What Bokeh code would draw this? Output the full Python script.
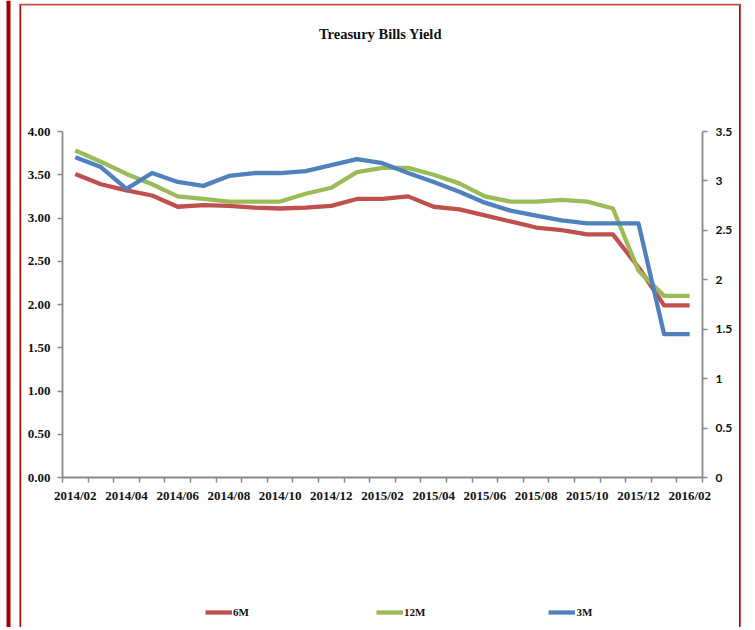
from bokeh.plotting import figure
from bokeh.models import (ColumnDataSource, Range1d, LinearAxis, FixedTicker,
                          NumeralTickFormatter, BoxAnnotation, Label, Legend, LegendItem)
from bokeh.embed import file_html
from bokeh.resources import INLINE

# ---------------- data ----------------
months = ["2014/02", "2014/03", "2014/04", "2014/05", "2014/06", "2014/07", "2014/08",
          "2014/09", "2014/10", "2014/11", "2014/12", "2015/01", "2015/02", "2015/03",
          "2015/04", "2015/05", "2015/06", "2015/07", "2015/08", "2015/09", "2015/10",
          "2015/11", "2015/12", "2016/01", "2016/02"]

yield_6m = [3.51, 3.39, 3.32, 3.26, 3.13, 3.15, 3.14, 3.12, 3.11, 3.12, 3.14, 3.22, 3.22,
            3.25, 3.13, 3.10, 3.03, 2.96, 2.89, 2.86, 2.81, 2.81, 2.43, 1.99, 1.99]
yield_12m = [3.78, 3.65, 3.51, 3.39, 3.25, 3.22, 3.19, 3.19, 3.19, 3.28, 3.35, 3.53, 3.58,
             3.58, 3.50, 3.40, 3.25, 3.19, 3.19, 3.21, 3.19, 3.11, 2.39, 2.10, 2.10]
yield_3m = [3.24, 3.14, 2.92, 3.08, 2.99, 2.95, 3.05, 3.08, 3.08, 3.10, 3.16, 3.22, 3.18,
            3.08, 2.99, 2.89, 2.78, 2.70, 2.65, 2.60, 2.57, 2.57, 2.57, 1.45, 1.45]

left_ticks = [0, 0.5, 1, 1.5, 2, 2.5, 3, 3.5, 4]
right_ticks = [0, 0.5, 1, 1.5, 2, 2.5, 3, 3.5]
LEFT_MAX, RIGHT_MAX = 4.0, 3.5

title_text = "Treasury Bills Yield"

# ---------------- layout geometry (page pixels) ----------------
W, H = 752, 627
FL, FR, FT, FB = 62, 702, 131, 477   # plot-area edges on the page
n = len(months)

def xd(px):
    return -0.5 + (px - FL) * n / (FR - FL)

def yd(py):
    return (FB - py) * LEFT_MAX / (FB - FT)

def yr(py):
    return (FB - py) * RIGHT_MAX / (FB - FT)

x_idx = list(range(n))
src = ColumnDataSource(dict(x=x_idx, m6=yield_6m, m12=yield_12m, m3=yield_3m,
                            month=months))

p = figure(width=W, height=H, output_backend="svg", toolbar_location=None,
           x_range=Range1d(xd(0), xd(W)), y_range=Range1d(yd(H), yd(0)),
           min_border=0, x_axis_location=None, y_axis_location=None)
p.extra_y_ranges = {"right": Range1d(yr(H), yr(0))}
p.outline_line_color = None
p.xgrid.visible = False
p.ygrid.visible = False
p.background_fill_color = "white"
p.border_fill_color = "white"

AX = "#898989"
serif = "Liberation Serif"
TXT = "#111111"

# bottom axis: labels every two months, tick marks between categories
xa = LinearAxis(fixed_location=0, bounds=(-0.5, n - 0.5),
                ticker=FixedTicker(ticks=x_idx[::2],
                                   minor_ticks=[i - 0.5 for i in range(n + 1)]))
xa.major_label_overrides = {i: months[i] for i in x_idx[::2]}
xa.major_tick_out = 0
xa.major_tick_in = 0
xa.minor_tick_out = 5
xa.minor_tick_in = 0
xa.minor_tick_line_color = AX
xa.minor_tick_line_width = 1.5
xa.axis_line_color = AX
xa.axis_line_width = 1.8
xa.major_label_standoff = 5
xa.major_label_text_font = serif
xa.major_label_text_font_style = "bold"
xa.major_label_text_font_size = "13px"
xa.major_label_text_color = TXT
p.add_layout(xa, "below")

# left axis
ya = LinearAxis(fixed_location=-0.5, bounds=(0, LEFT_MAX),
                ticker=FixedTicker(ticks=left_ticks),
                formatter=NumeralTickFormatter(format="0.00"))
ya.major_tick_out = 5
ya.major_tick_in = 0
ya.minor_tick_out = 0
ya.minor_tick_in = 0
ya.major_tick_line_color = AX
ya.major_tick_line_width = 1.5
ya.axis_line_color = AX
ya.axis_line_width = 1.8
ya.major_label_standoff = 7
ya.major_label_text_font = serif
ya.major_label_text_font_style = "bold"
ya.major_label_text_font_size = "13px"
ya.major_label_text_color = TXT
p.add_layout(ya, "left")

# right axis
ra = LinearAxis(y_range_name="right", fixed_location=n - 0.5, bounds=(0, RIGHT_MAX),
                ticker=FixedTicker(ticks=right_ticks),
                formatter=NumeralTickFormatter(format="0.[0]"))
ra.major_tick_out = 5
ra.major_tick_in = 0
ra.minor_tick_out = 0
ra.minor_tick_in = 0
ra.major_tick_line_color = AX
ra.major_tick_line_width = 1.5
ra.axis_line_color = AX
ra.axis_line_width = 1.8
ra.major_label_standoff = 8
ra.major_label_text_font = "Lato"
ra.major_label_text_font_style = "bold"
ra.major_label_text_font_size = "12px"
ra.major_label_text_color = TXT
p.add_layout(ra, "right")

# series
r6 = p.line("x", "m6", source=src, line_width=4.3, color="#c0504d", line_join="round")
r12 = p.line("x", "m12", source=src, line_width=4.3, color="#9bbb59", line_join="round")
r3 = p.line("x", "m3", source=src, line_width=4.3, color="#4f81bd", line_join="round",
            y_range_name="right")

# title
p.add_layout(Label(x=xd(380), y=yd(33), text=title_text, text_align="center",
                   text_baseline="middle", text_font=serif, text_font_style="bold",
                   text_font_size="14.5px", text_color=TXT))

# legend below the chart
leg = Legend(items=[LegendItem(label="6M", renderers=[r6]),
                    LegendItem(label="12M", renderers=[r12]),
                    LegendItem(label="3M", renderers=[r3])],
             orientation="horizontal", location=(205, H - 622),
             margin=0, padding=0, spacing=123, glyph_width=27, glyph_height=20,
             label_height=20, label_standoff=1, border_line_color=None,
             background_fill_alpha=0, label_text_font=serif,
             label_text_font_style="bold",
             label_text_font_size="11px", label_text_color=TXT)
p.add_layout(leg, "center")

# page decoration: dark red frame lines
def band(x0, x1, y0, y1, color):
    p.add_layout(BoxAnnotation(left=xd(x0), right=xd(x1), top=yd(y0), bottom=yd(y1),
                               fill_color=color, fill_alpha=1, line_color=None,
                               level="underlay"))

band(6, 10, 0, H, "#a00000")
band(19, 20.7, 3.5, H, "#a80808")
band(738.5, 740.2, 3.5, H, "#a80808")
band(19, 740.2, 3.3, 5.0, "#c0504d")

open("out.html", "w").write(file_html(p, INLINE))
